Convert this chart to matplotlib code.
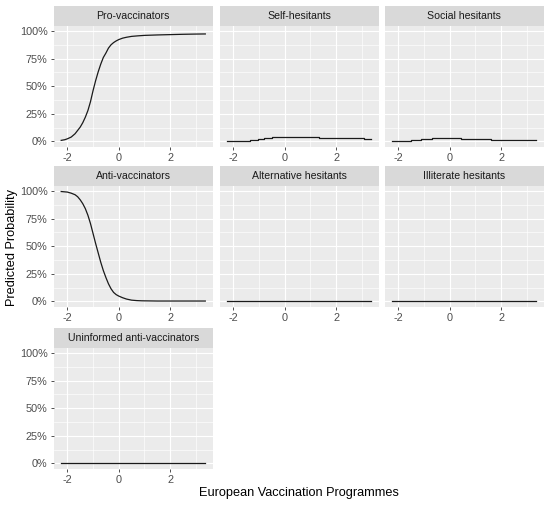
import numpy as np
import matplotlib
matplotlib.use("Agg")
import matplotlib.pyplot as plt
from matplotlib.patches import Rectangle
from matplotlib.ticker import FuncFormatter

plt.rcParams['font.family'] = ['Liberation Sans', 'DejaVu Sans']
plt.rcParams['axes.unicode_minus'] = False

# predicted probabilities, per latent class
pro_x = [-2.24, -2.1, -2.0, -1.85, -1.7, -1.6, -1.5, -1.4, -1.3, -1.2, -1.1, -1.0, -0.9, -0.8, -0.7,
         -0.6, -0.5, -0.4, -0.3, -0.2, -0.1, 0.0, 0.15, 0.3, 0.5, 0.75, 1.0, 1.5, 2.0, 2.5, 3.0, 3.37]
pro_y = [0.01, 0.016, 0.024, 0.04, 0.07, 0.1, 0.13, 0.17, 0.22, 0.28, 0.36, 0.46, 0.55, 0.63, 0.70,
         0.76, 0.80, 0.845, 0.875, 0.895, 0.91, 0.922, 0.935, 0.943, 0.951, 0.956, 0.96, 0.964, 0.967,
         0.97, 0.972, 0.973]

anti_x = [-2.24, -2.0, -1.85, -1.7, -1.6, -1.5, -1.4, -1.3, -1.2, -1.1, -1.0, -0.9, -0.8, -0.7, -0.6,
          -0.5, -0.4, -0.3, -0.2, -0.1, 0.0, 0.15, 0.3, 0.5, 0.7, 0.9, 1.5, 2.5, 3.37]
anti_y = [0.995, 0.99, 0.98, 0.966, 0.948, 0.92, 0.885, 0.84, 0.78, 0.705, 0.615, 0.525, 0.44, 0.355,
          0.28, 0.217, 0.16, 0.115, 0.082, 0.062, 0.049, 0.034, 0.022, 0.012, 0.008, 0.006, 0.004,
          0.004, 0.004]

self_x = [-2.24, -1.36, -1.05, -0.8, -0.5, 1.35, 3.1, 3.37]
self_y = [0.006, 0.015, 0.024, 0.03, 0.04, 0.03, 0.024, 0.024]

social_x = [-2.24, -1.5, -1.1, -0.7, -0.25, 0.45, 1.6, 3.37]
social_y = [0.006, 0.015, 0.024, 0.033, 0.027, 0.018, 0.009, 0.009]

flat_x = [-2.24, 3.37]
alt_y = [0.003, 0.003]
illit_y = [0.003, 0.003]
uninf_y = [0.003, 0.003]

titles = ["Pro-vaccinators", "Self-hesitants", "Social hesitants",
          "Anti-vaccinators", "Alternative hesitants", "Illiterate hesitants",
          "Uninformed anti-vaccinators"]
series = [(pro_x, pro_y, "default"), (self_x, self_y, "steps-post"), (social_x, social_y, "steps-post"),
          (anti_x, anti_y, "default"), (flat_x, alt_y, "default"), (flat_x, illit_y, "default"),
          (flat_x, uninf_y, "default")]

W, H = 550, 505
fig = plt.figure(figsize=(W / 100, H / 100), dpi=100)
fig.patch.set_facecolor("white")

col_left = [54, 220, 385]
panel_w = 158.5
row_top = [26, 186, 348]
panel_h = 121
strip_h = 20

pct = FuncFormatter(lambda v, p: f"{v * 100:.0f}%")

for i, (title, (xs, ys, ds)) in enumerate(zip(titles, series)):
    r, c = divmod(i, 3)
    left, top = col_left[c], row_top[r]
    ax = fig.add_axes([left / W, 1 - (top + panel_h) / H, panel_w / W, panel_h / H])
    ax.set_facecolor("#EBEBEB")
    for s in ax.spines.values():
        s.set_visible(False)
    ax.set_xlim(-2.52, 3.65)
    ax.set_ylim(-0.05, 1.045)
    ax.set_xticks([-2, 0, 2])
    ax.set_xticks([-1, 1, 3], minor=True)
    ax.set_yticks([0, 0.25, 0.5, 0.75, 1.0])
    ax.set_yticks([0.125, 0.375, 0.625, 0.875], minor=True)
    ax.grid(which="major", color="white", lw=0.85)
    ax.grid(which="minor", color="white", lw=0.45)
    ax.set_axisbelow(True)
    ax.tick_params(which="major", length=2.5, width=0.6, color="#333333",
                   labelsize=7.8, labelcolor="#4D4D4D", pad=2)
    ax.tick_params(which="minor", length=0)
    if c == 0:
        ax.yaxis.set_major_formatter(pct)
    else:
        ax.tick_params(axis="y", which="major", length=0, labelleft=False)
    ax.plot(xs, ys, color="#1a1a1a", lw=0.9, drawstyle=ds)

    # facet strip
    ax.add_patch(Rectangle((0, 1), 1, strip_h / panel_h, transform=ax.transAxes,
                           facecolor="#D9D9D9", edgecolor="none", clip_on=False))
    ax.text(0.5, 1 + strip_h / panel_h / 2, title, transform=ax.transAxes,
            ha="center", va="center", fontsize=7.6, color="#1A1A1A")

fig.text(298.5 / W, 1 - 493 / H, "European Vaccination Programmes",
         ha="center", va="center", fontsize=9.2, color="black")
fig.text(12 / W, 1 - 247 / H, "Predicted Probability", rotation=90,
         ha="center", va="center", fontsize=9.2, color="black")

fig.savefig("out.png", dpi=100)
